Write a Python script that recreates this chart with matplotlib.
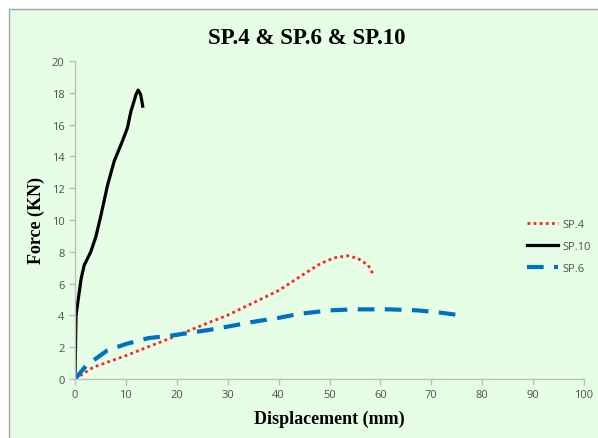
import matplotlib
matplotlib.use("Agg")
import matplotlib.pyplot as plt
from matplotlib.patches import Rectangle

# SP.4 (red dotted)
sp4_x = [0, 3.6, 10, 15, 20.1, 25.2, 29.9, 34.7, 40.1, 44.1, 48.2, 50.9, 53.6, 55.6, 57.6, 58.6]
sp4_y = [0, 0.74, 1.47, 2.1, 2.74, 3.41, 4.0, 4.74, 5.58, 6.42, 7.26, 7.62, 7.75, 7.58, 7.16, 6.57]

# SP.10 (black solid)
sp10_x = [0, 0.2, 0.65, 1.2, 1.8, 3.1, 4.1, 5.1, 6.4, 7.7, 9.3, 10.3, 11, 12, 12.4, 12.9, 13.3]
sp10_y = [0, 4, 5.05, 6.3, 7.15, 8, 8.95, 10.3, 12.2, 13.7, 14.95, 15.8, 16.85, 17.9, 18.17, 17.9, 17.16]

# SP.6 (blue dashed)
sp6_x = [0, 2.2, 6.3, 10, 14.4, 19.1, 22.5, 26.6, 30.6, 34.7, 40.1, 44.1, 50.2, 54.9, 61.7, 67.1, 71.2, 74.9]
sp6_y = [0, 0.84, 1.79, 2.2, 2.57, 2.74, 2.9, 3.1, 3.33, 3.58, 3.85, 4.1, 4.32, 4.38, 4.38, 4.32, 4.2, 4.04]

bg = "#e6fde6"
fig = plt.figure(figsize=(5.98, 4.39), dpi=100)
fig.patch.set_facecolor("white")
fig.patches.append(Rectangle((9 / 598, -0.01), 1.0, 1 - 10 / 439 + 0.01,
                             transform=fig.transFigure, facecolor=bg,
                             edgecolor="#a6a6a6", linewidth=1.0, zorder=-10))

ax = fig.add_axes([75 / 598, 1 - 380 / 439, 509 / 598, 318 / 439])
ax.set_facecolor(bg)
ax.patch.set_alpha(0)

ax.plot(sp4_x, sp4_y, color="#ff2020", linestyle=(0, (1, 1.2)), linewidth=2, label="SP.4")
ax.plot(sp10_x, sp10_y, color="black", linewidth=2.3, label="SP.10")
ax.plot(sp6_x, sp6_y, color="#0070c0", linestyle=(0, (4, 2.5)), linewidth=3, label="SP.6")

ax.set_xlim(0, 100)
ax.set_ylim(0, 20)
ax.set_xticks(range(0, 101, 10))
ax.set_yticks(range(0, 21, 2))
for s in ["top", "right"]:
    ax.spines[s].set_visible(False)
for s in ["left", "bottom"]:
    ax.spines[s].set_color("#bfbfbf")
    ax.spines[s].set_linewidth(1)
ax.tick_params(colors="#bfbfbf", labelcolor="#505050", labelsize=8, length=4, width=1)
for lab in ax.get_xticklabels() + ax.get_yticklabels():
    lab.set_family("Open Sans")

fig.text(307 / 598, 1 - 38 / 439, "SP.4 & SP.6 & SP.10", fontsize=16.5, fontweight="bold",
         family="Liberation Serif", ha="center", va="center")
ax.set_xlabel("Displacement (mm)", fontsize=13, fontweight="bold", family="Liberation Serif", labelpad=7)
ax.set_ylabel("Force (KN)", fontsize=13, fontweight="bold", family="Liberation Serif", labelpad=5)

leg = ax.legend(loc="upper left", bbox_to_anchor=(0.868, 0.535), frameon=False,
                handlelength=2.8, handletextpad=0.4, labelspacing=1.0,
                prop={"family": "Open Sans", "size": 8})
for t in leg.get_texts():
    t.set_color("#505050")

fig.savefig("out.png", dpi=100, facecolor=fig.get_facecolor())
